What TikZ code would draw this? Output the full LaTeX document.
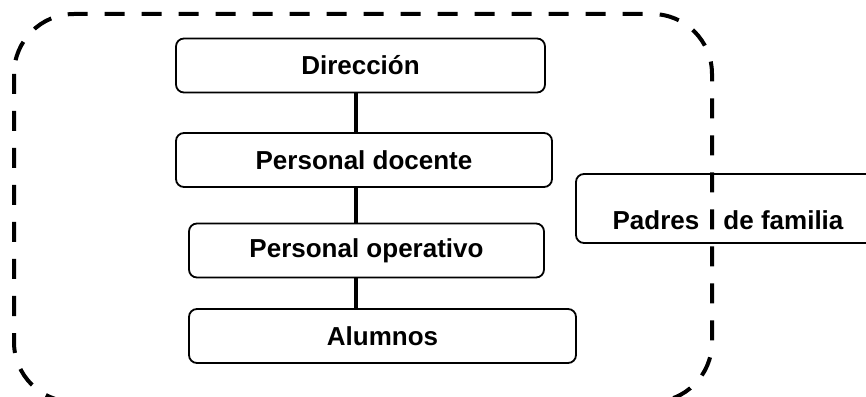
\documentclass[tikz,border=0pt]{standalone}
\usepackage{fontspec}
\setmainfont{Liberation Sans}
\usepackage{xcolor}
\usetikzlibrary{positioning}

\begin{document}
\begin{tikzpicture}[x=1pt, y=1pt,
    caja/.style={draw, line width=1.8pt, rounded corners=8pt, inner sep=0pt,
        font=\bfseries\fontsize{26}{30}\selectfont},
    enlace/.style={line width=4pt},
    marco/.style={line width=4pt, dash pattern=on 20pt off 17pt, rounded corners=60pt}]
    \clip (0,0) rectangle (866,396);
    \foreach \nombre/\cx/\cy/\ancho/\texto in {direccion/360.5/330.5/369/Dirección, docente/364/236/376/Personal docente, operativo/366.5/145.5/355/Personal operativo, alumnos/382.5/60/387/Alumnos} {
        \node[caja, minimum width=\ancho pt, minimum height=54pt] (\nombre) at (\cx,\cy) {\texto};
    }
    \node[caja, minimum width=304pt, text height=56pt, text depth=13pt, anchor=base] (padres) at (728,166) {Padres\hspace{17pt} de familia};
    % lineas verticales
    \coordinate (eje) at (356,0);
    \draw[enlace] (direccion.south -| eje) -- (docente.north -| eje);
    \draw[enlace] (docente.south -| eje) -- (operativo.north -| eje);
    \draw[enlace] (operativo.south -| eje) -- (alumnos.north -| eje);
    % marco punteado
    \draw[marco] (14,382) rectangle (712,-6);
\end{tikzpicture}
\end{document}
